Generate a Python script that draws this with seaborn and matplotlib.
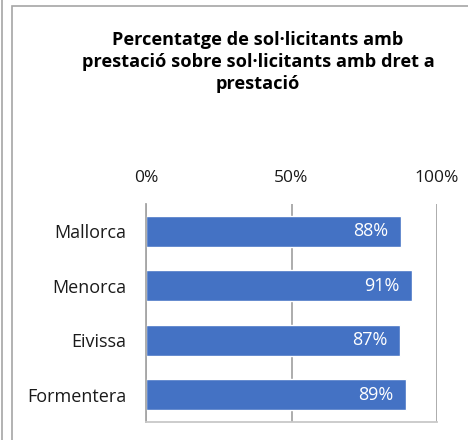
import matplotlib
matplotlib.use("Agg")
import matplotlib.pyplot as plt
from matplotlib.patches import Rectangle
from matplotlib.ticker import PercentFormatter
import seaborn as sns
import pandas as pd

# data
illes = ["Mallorca", "Menorca", "Eivissa", "Formentera"]
percentatge = [0.876, 0.913, 0.873, 0.894]
etiquetes = ["88%", "91%", "87%", "89%"]
xticks = [0, 0.5, 1.0]

df = pd.DataFrame({"illa": illes, "pct": percentatge})

sns.set_style("white")
plt.rcParams["font.family"] = ["Open Sans", "DejaVu Sans"]

blau = "#4472C4"
gris = "#A6A6A6"
text_col = "#1A1A1A"

fig = plt.figure(figsize=(4.68, 4.4), dpi=100)
ax = fig.add_axes([146 / 468, 1 - 422 / 440, 291 / 468, 218 / 440])

sns.barplot(data=df, x="pct", y="illa", orient="h", color=blau,
            saturation=1, width=0.57, ax=ax)

ax.set_xlim(0, 1)
ax.set_ylim(3.5, -0.5)
ax.set_xticks(xticks)
ax.xaxis.set_major_formatter(PercentFormatter(1.0, decimals=0))
ax.xaxis.tick_top()
ax.tick_params(axis="x", length=0, pad=13, labelsize=12.5, labelcolor=text_col)
ax.tick_params(axis="y", length=0, pad=14, labelsize=13, labelcolor=text_col)
ax.set_xlabel("")
ax.set_ylabel("")
ax.grid(axis="x", color=gris, linewidth=1.3)
ax.set_axisbelow(True)
for side in ["top", "right"]:
    ax.spines[side].set_visible(False)
ax.spines["left"].set_color(gris)
ax.spines["left"].set_linewidth(1.3)
ax.spines["bottom"].set_color("#C8C8C8")
ax.spines["bottom"].set_linewidth(1.3)

# value labels inside the bar ends
for bar, lab in zip(ax.patches, etiquetes):
    ax.annotate(lab, (bar.get_x() + bar.get_width(), bar.get_y() + bar.get_height() / 2),
                xytext=(-9, 0), textcoords="offset points", ha="right", va="center",
                color="white", fontsize=13)

fig.text(258 / 468, 1 - 31 / 440,
         "Percentatge de sol·licitants amb\nprestació sobre sol·licitants amb dret a\nprestació",
         ha="center", va="top", fontsize=13.1, fontweight="bold", color="#000000",
         linespacing=1.28)

# chart frame
fig.patches.append(Rectangle((12 / 468, -0.1), 1.2, 1 - 6 / 440 + 0.1, transform=fig.transFigure,
                             fill=False, edgecolor="#A6A6A6", linewidth=1.2))
fig.patches.append(Rectangle((-0.5, -0.1), 0.5 + 1.5 / 468, 1.2, transform=fig.transFigure,
                             fill=False, edgecolor="#A6A6A6", linewidth=1.2))

fig.savefig("out.png", dpi=100)
